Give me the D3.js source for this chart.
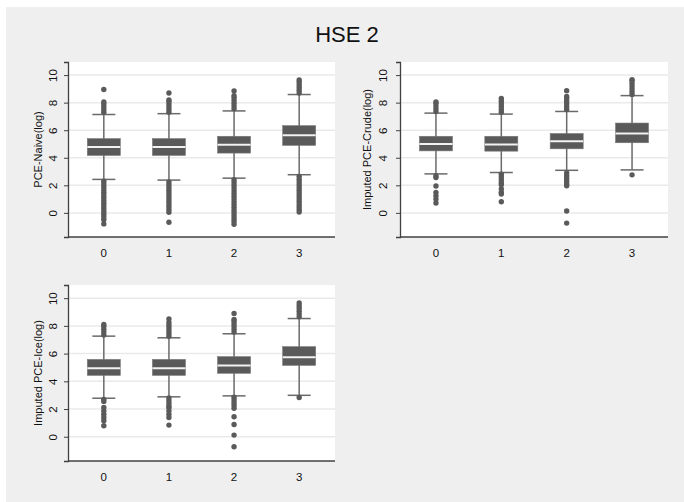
<!DOCTYPE html>
<html>
<head>
<meta charset="utf-8">
<script src="https://cdn.jsdelivr.net/npm/d3@7"></script>
<style>
  body { margin: 0; background: #ffffff; }
  text { font-family: "Liberation Sans", Arial, sans-serif; fill: #111; }
</style>
</head>
<body>
<div id="viz"></div>
<script>
// categories on the x axis (same for every panel)
const groups = ["0", "1", "2", "3"];
const yTicks = [0, 2, 4, 6, 8, 10];

// PCE-Naive(log): box stats per group
const naiveQ1 = [4.17, 4.17, 4.34, 4.90];
const naiveMed = [4.78, 4.78, 4.95, 5.63];
const naiveQ3 = [5.39, 5.39, 5.56, 6.33];
const naiveLo = [2.43, 2.38, 2.52, 2.77];
const naiveHi = [7.14, 7.20, 7.40, 8.59];
const naiveOut = [
  [7.3, 7.5, 7.7, 7.9, 8.05, 8.95,
   2.3, 2.1, 1.9, 1.7, 1.5, 1.3, 1.1, 0.9, 0.7, 0.5, 0.3, 0.1, -0.1, -0.3, -0.5, -0.8],
  [7.3, 7.5, 7.7, 7.9, 8.1, 8.2, 8.7,
   2.25, 2.05, 1.85, 1.65, 1.45, 1.25, 1.05, 0.85, 0.65, 0.45, 0.25, 0.05, -0.68],
  [7.55, 7.75, 7.95, 8.15, 8.35, 8.5, 8.85,
   2.4, 2.2, 2.0, 1.8, 1.6, 1.4, 1.2, 1.0, 0.8, 0.6, 0.4, 0.2, 0.0, -0.2, -0.4, -0.6, -0.82],
  [8.7, 8.9, 9.1, 9.3, 9.5, 9.65,
   2.65, 2.45, 2.25, 2.05, 1.85, 1.65, 1.45, 1.25, 1.05, 0.85, 0.65, 0.45, 0.25, 0.06]
];

// Imputed PCE-Crude(log)
const crudeQ1 = [4.50, 4.48, 4.65, 5.09];
const crudeMed = [5.00, 4.96, 5.20, 5.76];
const crudeQ3 = [5.56, 5.56, 5.76, 6.52];
const crudeLo = [2.83, 2.93, 3.09, 3.12];
const crudeHi = [7.24, 7.17, 7.36, 8.51];
const crudeOut = [
  [7.35, 7.55, 7.75, 7.95, 8.05,
   2.7, 2.57, 1.95, 1.49, 1.25, 1.0, 0.72],
  [7.3, 7.5, 7.7, 7.9, 8.1, 8.3,
   2.8, 2.6, 2.4, 2.2, 2.05, 1.73, 1.49, 1.37, 0.81],
  [7.5, 7.7, 7.9, 8.1, 8.3, 8.45, 8.87,
   2.9, 2.7, 2.5, 2.3, 2.1, 1.97, 0.14, -0.74],
  [8.6, 8.8, 9.0, 9.2, 9.4, 9.6, 9.66,
   2.76]
];

// Imputed PCE-Ice(log)
const iceQ1 = [4.43, 4.43, 4.58, 5.15];
const iceMed = [4.94, 4.94, 5.15, 5.73];
const iceQ3 = [5.58, 5.58, 5.78, 6.50];
const iceLo = [2.78, 2.88, 2.95, 2.99];
const iceHi = [7.26, 7.14, 7.43, 8.53];
const iceOut = [
  [7.35, 7.55, 7.75, 7.95, 8.1,
   2.7, 2.55, 2.11, 1.87, 1.63, 1.39, 1.15, 0.79],
  [7.25, 7.45, 7.65, 7.85, 8.05, 8.25, 8.5,
   2.8, 2.6, 2.4, 2.2, 2.1, 1.87, 1.63, 1.39, 0.84],
  [7.55, 7.75, 7.95, 8.15, 8.35, 8.46, 8.9,
   2.85, 2.65, 2.45, 2.25, 2.05, 1.44, 0.88, 0.12, -0.72],
  [8.65, 8.85, 9.05, 9.25, 9.45, 9.66,
   2.83]
];

const W = 684, H = 502;
const boxColor = "#5a5a5a";
const lineColor = "#6a6a6a";

const svg = d3.select("#viz")
  .append("svg")
  .attr("width", W)
  .attr("height", H);

//gray graph region
svg.append("rect")
  .attr("x", 6).attr("y", 7)
  .attr("width", W - 6).attr("height", H - 7)
  .attr("fill", "#efefef");

svg.append("text")
  .attr("x", 347)
  .attr("y", 42)
  .attr("text-anchor", "middle")
  .style("font-size", "22px")
  .text("HSE 2");

//build one panel from the arrays
function panel(title, q1, med, q3, lo, hi, out, box) {
  const g = svg.append("g");

  const x = d3.scalePoint().domain(groups).range([box.left, box.right]).padding(0.55);
  const y = d3.scaleLinear().domain([-1.75, 10.95]).range([box.bottom, box.top]);

  //plot region
  g.append("rect")
    .attr("x", box.left).attr("y", box.top)
    .attr("width", box.right - box.left).attr("height", box.bottom - box.top)
    .attr("fill", "#ffffff");

  //grid lines
  g.selectAll("line.grid")
    .data(yTicks)
    .enter().append("line")
    .attr("x1", box.left).attr("x2", box.right)
    .attr("y1", d => y(d)).attr("y2", d => y(d))
    .attr("stroke", "#eaeaea")
    .attr("stroke-width", 1.5);

  //y axis with rotated labels
  const yAxis = d3.axisLeft(y).tickValues(yTicks).tickSize(4).tickPadding(3);
  const ya = g.append("g")
    .attr("transform", `translate(${box.left},0)`)
    .call(yAxis);
  ya.select(".domain").attr("stroke", "#404040").attr("stroke-width", 1.3);
  ya.selectAll(".tick line").attr("stroke", "#404040");
  ya.selectAll(".tick text")
    .attr("x", null).attr("dy", null)
    .attr("text-anchor", "middle")
    .attr("transform", `translate(${-box.tickGap},0) rotate(-90)`)
    .style("font-size", "11.5px")
    .style("font-family", "Liberation Sans, Arial, sans-serif")
    .attr("fill", "#111");

  //x axis, no ticks
  g.append("line")
    .attr("x1", box.left).attr("x2", box.right)
    .attr("y1", box.bottom).attr("y2", box.bottom)
    .attr("stroke", "#404040")
    .attr("stroke-width", 1.3);
  g.selectAll("text.xlab")
    .data(groups)
    .enter().append("text")
    .attr("x", d => x(d))
    .attr("y", box.bottom + 19.5)
    .attr("text-anchor", "middle")
    .style("font-size", "11.5px")
    .text(d => d);

  //y title
  g.append("text")
    .attr("transform", `translate(${box.left - box.titleGap},${(box.top + box.bottom) / 2}) rotate(-90)`)
    .attr("text-anchor", "middle")
    .style("font-size", "11px")
    .text(title);

  const bw = 33, cw = 23;
  groups.forEach((k, i) => {
    const cx = x(k);
    //whiskers
    g.append("line")
      .attr("x1", cx).attr("x2", cx)
      .attr("y1", y(hi[i])).attr("y2", y(lo[i]))
      .attr("stroke", lineColor).attr("stroke-width", 1.5);
    [hi[i], lo[i]].forEach(v => {
      g.append("line")
        .attr("x1", cx - cw / 2).attr("x2", cx + cw / 2)
        .attr("y1", y(v)).attr("y2", y(v))
        .attr("stroke", lineColor).attr("stroke-width", 1.5);
    });
    //box
    g.append("rect")
      .attr("x", cx - bw / 2)
      .attr("y", y(q3[i]))
      .attr("width", bw)
      .attr("height", y(q1[i]) - y(q3[i]))
      .attr("fill", boxColor)
      .attr("stroke", "#777")
      .attr("stroke-width", 0.6);
    //median
    g.append("line")
      .attr("x1", cx - bw / 2).attr("x2", cx + bw / 2)
      .attr("y1", y(med[i])).attr("y2", y(med[i]))
      .attr("stroke", "#f2f2f2").attr("stroke-width", 2);
    //outliers
    g.selectAll(null)
      .data(out[i])
      .enter().append("circle")
      .attr("cx", cx)
      .attr("cy", d => y(d))
      .attr("r", 2.7)
      .attr("fill", boxColor);
  });
}

panel("PCE-Naive(log)", naiveQ1, naiveMed, naiveQ3, naiveLo, naiveHi, naiveOut,
  { left: 68, right: 335, top: 62, bottom: 237, tickGap: 11.5, titleGap: 26 });
panel("Imputed PCE-Crude(log)", crudeQ1, crudeMed, crudeQ3, crudeLo, crudeHi, crudeOut,
  { left: 400, right: 668, top: 62, bottom: 237, tickGap: 13, titleGap: 29.5 });
panel("Imputed PCE-Ice(log)", iceQ1, iceMed, iceQ3, iceLo, iceHi, iceOut,
  { left: 68, right: 335, top: 285, bottom: 461, tickGap: 11.5, titleGap: 26 });
</script>
</body>
</html>
